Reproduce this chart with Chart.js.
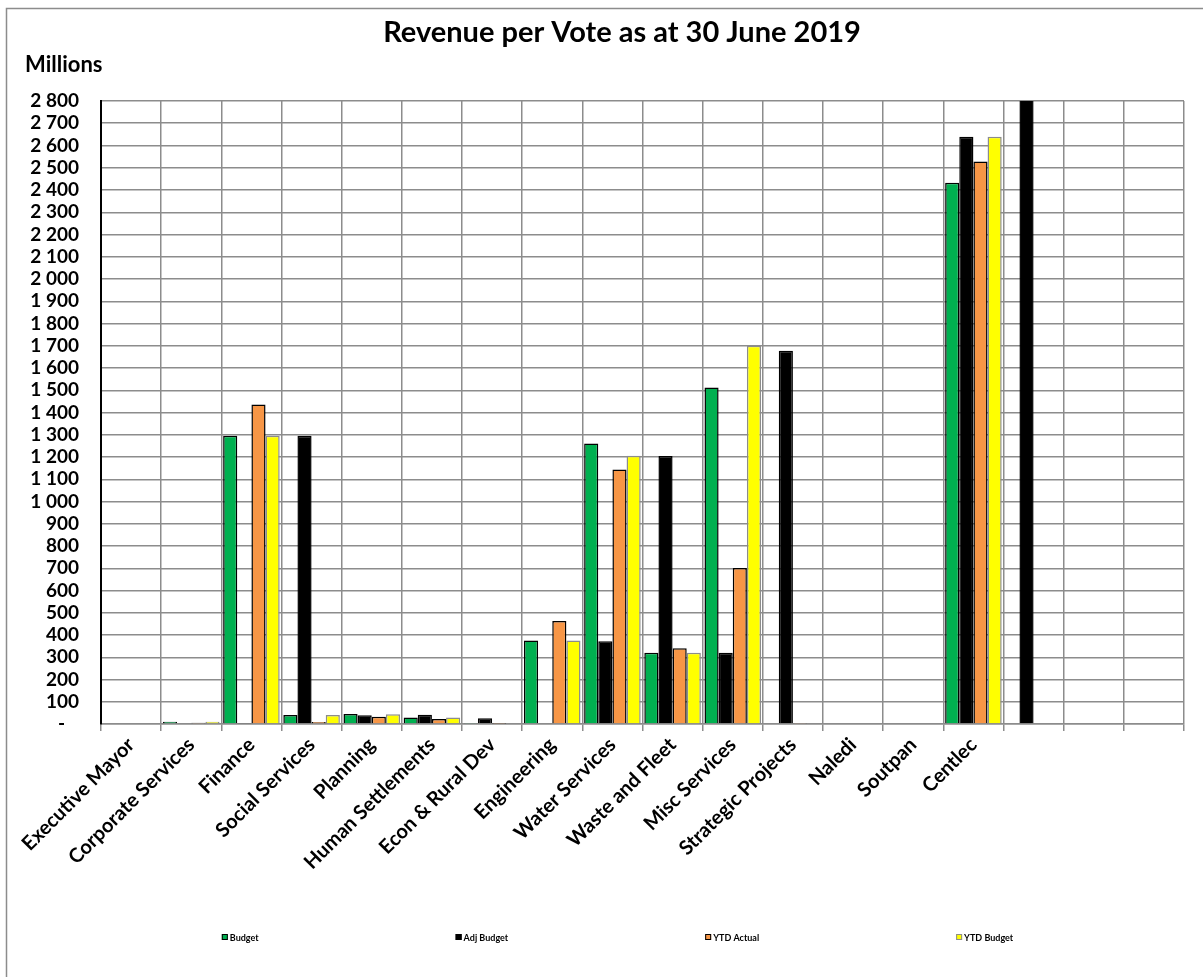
<!DOCTYPE html>
<html>
<head>
<meta charset="utf-8">
<title>Revenue per Vote</title>
<script src="https://cdn.jsdelivr.net/npm/chart.js@4.4.1/dist/chart.umd.min.js"></script>
<style>
  html, body { margin: 0; padding: 0; background: #fff; }
  #wrap { position: relative; width: 1203px; height: 977px; }
</style>
</head>
<body>
<div id="wrap"><canvas id="voteChart" width="1203" height="977"></canvas></div>
<script>
// categories (the last three slots have no label in the original)
const categories = [
  "Executive Mayor", "Corporate Services", "Finance", "Social Services", "Planning",
  "Human Settlements", "Econ & Rural Dev", "Engineering", "Water Services",
  "Waste and Fleet", "Misc Services", "Strategic Projects", "Naledi", "Soutpan",
  "Centlec", "", "", ""
];

// values in millions
const budget    = [0, 10, 1296, 41, 45, 29, 2, 375, 1261, 320, 1512, 0, 0, 0, 2433, 0, 0, 0];
const adjBudget = [0, 0, 4, 1296, 39, 42, 26, 0, 372, 1204, 320, 1677, 0, 0, 2639, 3000, 0, 0];
const ytdActual = [0, 6, 1436, 9, 33, 23, 1, 463, 1144, 341, 701, 2, 0, 0, 2528, 0, 0, 0];
const ytdBudget = [0, 10, 1296, 41, 44, 29, 0, 375, 1206, 320, 1700, 0, 0, 0, 2639, 0, 0, 0];

const seriesNames = ["Budget", "Adj Budget", "YTD Actual", "YTD Budget"];
const yMax = 2800;
const yStep = 100;

const FONT = "Lato, Carlito, Calibri, sans-serif";
const gridGrey = "#8c8c8c";

function fmtTick(v) {
  if (v === 0) return "-   ";
  return String(v).replace(/\B(?=(\d{3})+(?!\d))/g, " ");
}

// frame, title, "Millions" and the legend row
const decorPlugin = {
  id: "decor",
  beforeDraw(chart) {
    const ctx = chart.ctx;
    ctx.save();
    ctx.fillStyle = "#fff";
    ctx.fillRect(0, 0, chart.width, chart.height);
    ctx.restore();
  },
  afterDraw(chart) {
    const ctx = chart.ctx;
    ctx.save();
    ctx.strokeStyle = "#8c8c8c";
    ctx.lineWidth = 1.5;
    ctx.beginPath();
    ctx.moveTo(6.5, chart.height);
    ctx.lineTo(6.5, 8.5);
    ctx.lineTo(chart.width, 8.5);
    ctx.stroke();

    ctx.fillStyle = "#000";
    ctx.textBaseline = "alphabetic";
    ctx.textAlign = "center";
    ctx.font = "bold 29px " + FONT;
    ctx.fillText("Revenue per Vote as at 30 June 2019", 622, 42);

    ctx.textAlign = "left";
    ctx.font = "bold 22px " + FONT;
    ctx.fillText("Millions", 25, 72);

    // legend
    const ds = chart.data.datasets;
    ctx.textBaseline = "middle";
    ctx.font = "bold 9px " + FONT;
    const gap = 196;
    const box = 6;
    const widths = ds.map(d => box + 3 + ctx.measureText(d.label).width);
    const total = widths.reduce((a, b) => a + b, 0) + gap * (ds.length - 1);
    let x = 618 - total / 2;
    const y = 937;
    ds.forEach((d, i) => {
      ctx.fillStyle = d.backgroundColor;
      ctx.fillRect(x, y - box / 2, box, box);
      ctx.strokeStyle = d.borderColor;
      ctx.lineWidth = 1;
      ctx.strokeRect(x + 0.5, y - box / 2 + 0.5, box - 1, box - 1);
      ctx.fillStyle = "#000";
      ctx.fillText(d.label, x + box + 2, y + 1);
      x += widths[i] + gap;
    });
    ctx.restore();
  }
};

const ctx = document.getElementById("voteChart").getContext("2d");
new Chart(ctx, {
  type: "bar",
  data: {
    labels: categories,
    datasets: [
      { label: seriesNames[0], data: budget,    backgroundColor: "#00b050", borderColor: "#000", borderWidth: 1.5 },
      { label: seriesNames[1], data: adjBudget, backgroundColor: "#000000", borderColor: "#000", borderWidth: 1.5 },
      { label: seriesNames[2], data: ytdActual, backgroundColor: "#f79646", borderColor: "#000", borderWidth: 1.5 },
      { label: seriesNames[3], data: ytdBudget, backgroundColor: "#ffff00", borderColor: "#8c8c8c", borderWidth: 1.5 }
    ]
  },
  options: {
    responsive: false,
    animation: false,
    devicePixelRatio: 1,
    layout: { padding: { left: 6, right: 19, top: 101, bottom: 0 } },
    datasets: { bar: { categoryPercentage: 0.94, barPercentage: 1 } },
    plugins: {
      legend: { display: false },
      title: { display: false },
      tooltip: { enabled: false }
    },
    scales: {
      x: {
        grid: { color: gridGrey, lineWidth: 1.5, tickLength: 7, offset: true },
        border: { color: gridGrey, width: 1.5 },
        ticks: {
          autoSkip: false,
          maxRotation: 45,
          minRotation: 45,
          padding: 2,
          color: "#000",
          font: { family: FONT, size: 20, weight: "bold" }
        },
        afterFit(scale) {
          scale.height = 977 - 724;
          scale.paddingLeft = 0;
          scale.paddingRight = 0;
        }
      },
      y: {
        min: 0,
        max: yMax,
        grid: { color: gridGrey, lineWidth: 1.5, drawTicks: false, tickLength: 0 },
        border: { color: "#000", width: 2 },
        ticks: {
          stepSize: yStep,
          autoSkip: false,
          padding: 22,
          color: "#000",
          font: { family: FONT, size: 19, weight: "bold" },
          callback: v => fmtTick(v)
        },
        afterFit(scale) {
          scale.width = 95;
        }
      }
    }
  },
  plugins: [decorPlugin]
});
</script>
</body>
</html>
